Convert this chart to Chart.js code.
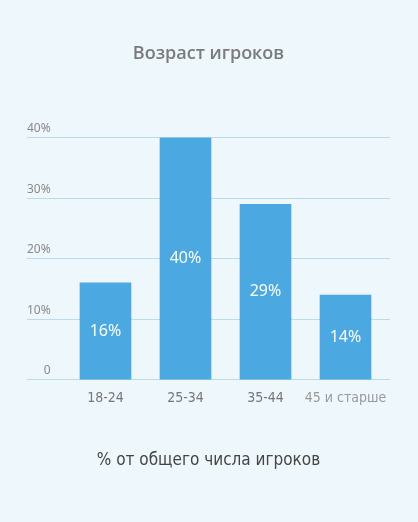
<!DOCTYPE html>
<html><head><meta charset="utf-8">
<script src="https://cdn.jsdelivr.net/npm/chart.js@4"></script>
<style>html,body{margin:0;padding:0;background:#EDF7FC;}#wrap{width:418px;height:522px;}</style>
</head><body><div id="wrap"><canvas id="c" width="418" height="522"></canvas></div>
<script>
const titleText = "Возраст игроков";
const axisTitle = "% от общего числа игроков";
const categories = ["18-24", "25-34", "35-44", "45 и старше"];
const values = [16, 40, 29, 14];
const yTicks = [0, 10, 20, 30, 40];

const condensed = "'Liberation Sans Narrow','DejaVu Sans Condensed','Open Sans',sans-serif";

const barLabels = {
  id: 'barLabels',
  afterDatasetsDraw(chart) {
    const ctx = chart.ctx;
    const meta = chart.getDatasetMeta(0);
    ctx.save();
    ctx.fillStyle = '#ffffff';
    ctx.font = "16px 'Noto Sans', sans-serif";
    ctx.textAlign = 'center';
    ctx.textBaseline = 'middle';
    meta.data.forEach((bar, i) => {
      ctx.fillText(values[i] + '%', bar.x, (bar.y + bar.base) / 2);
    });
    ctx.restore();
  }
};

new Chart(document.getElementById('c'), {
  type: 'bar',
  data: {
    datasets: [{
      data: values.map((v, i) => ({x: i + 1, y: v})),
      backgroundColor: '#4BA8E1',
      barThickness: 51,
      borderWidth: 0
    }]
  },
  options: {
    responsive: false,
    animation: false,
    devicePixelRatio: 1,
    layout: {padding: {left: 27, right: 28, top: 0, bottom: 51}},
    plugins: {
      legend: {display: false},
      tooltip: {enabled: false},
      title: {
        display: true, text: titleText, color: '#7B7B7B',
        font: {family: "'Open Sans', sans-serif", size: 18, weight: '600'},
        padding: {top: 43, bottom: 73}
      }
    },
    scales: {
      x: {
        type: 'linear',
        offset: false,
        bounds: 'data',
        min: 0.019, max: 4.556,
        afterBuildTicks(scale) { scale.ticks = categories.map((c, i) => ({value: i + 1})); },
        grid: {display: false, drawTicks: false, offset: false},
        border: {display: false},
        ticks: {
          callback: (v) => categories[Math.round(v) - 1] || '',
          color: categories.map((c, i) => i === 3 ? '#9A9A9A' : '#777777'),
          font: {family: condensed, size: 14},
          padding: 10,
          maxRotation: 0, autoSkip: false
        },
        title: {
          display: true, text: axisTitle, color: '#454545',
          font: {family: condensed, size: 17},
          padding: {top: 34, bottom: 0}
        }
      },
      y: {
        min: 0, max: 40,
        afterBuildTicks(scale) { scale.ticks = yTicks.map(v => ({value: v})); },
        grid: {color: '#BBDBE8', lineWidth: 1, drawTicks: false},
        border: {display: false},
        ticks: {
          mirror: true, crossAlign: 'far', padding: 0, labelOffset: -9,
          color: '#8A8A8A',
          font: {family: "'Noto Sans', sans-serif", size: 12},
          callback: (v) => v === 0 ? '0' : v + '%'
        }
      }
    }
  },
  plugins: [barLabels]
});
</script></body></html>
